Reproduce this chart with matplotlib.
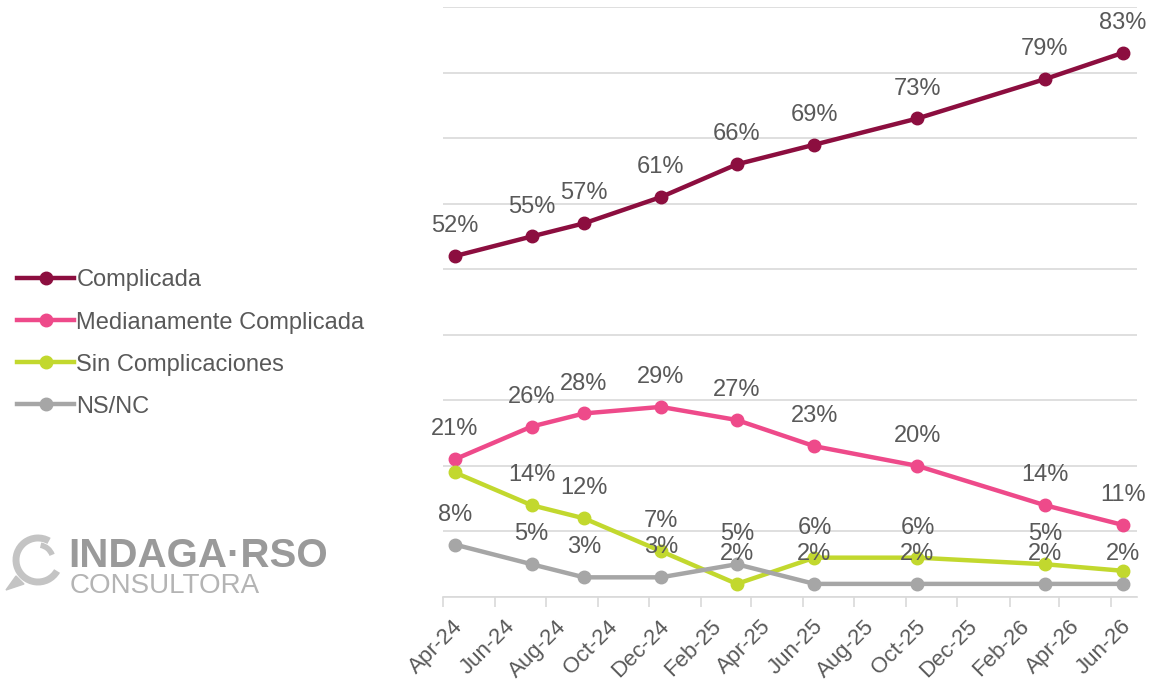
import numpy as np
import matplotlib
matplotlib.use("Agg")
import matplotlib.pyplot as plt
import matplotlib.dates as mdates
from matplotlib.patches import Arc, Polygon
from matplotlib.transforms import ScaledTranslation
from datetime import datetime

plt.rcParams['font.family'] = ['Liberation Sans', 'DejaVu Sans']

# survey dates and values (%)
fechas = ["2024-04-15", "2024-07-15", "2024-09-15", "2024-12-15", "2025-03-15",
          "2025-06-15", "2025-10-15", "2026-03-15", "2026-06-15"]
complicada = [52, 55, 57, 61, 66, 69, 73, 79, 83]
medianamente = [21, 26, 28, 29, 27, 23, 20, 14, 11]
sin_compl = [19, 14, 12, 7, 2, 6, 6, 5, 4]
nsnc = [8, 5, 3, 3, 5, 2, 2, 2, 2]

series_names = ["Complicada", "Medianamente Complicada", "Sin Complicaciones", "NS/NC"]
colors = ["#8C0E3F", "#EE4A8A", "#C2D82E", "#A6A6A6"]
hidden_labels = {"Sin Complicaciones": [0, 8]}  # labels not shown in the original

x = [datetime.strptime(f, "%Y-%m-%d") for f in fechas]
text_col = "#595959"

fig = plt.figure(figsize=(11.63, 6.82), dpi=100)
ax = fig.add_axes([443 / 1163, 1 - 597 / 682, (1137 - 443) / 1163, (597 - 7) / 682])

for name, vals, col in zip(series_names, [complicada, medianamente, sin_compl, nsnc], colors):
    ax.plot(x, vals, color=col, lw=3.2, marker="o", ms=9, label=name, zorder=3)
    for i, (xi, v) in enumerate(zip(x, vals)):
        if i in hidden_labels.get(name, []):
            continue
        ax.annotate(f"{v}%", (xi, v), xytext=(0, 21.5), textcoords="offset points",
                    ha="center", va="center", fontsize=17, color=text_col, zorder=4)

ax.set_ylim(0, 90)
ax.set_yticks(np.arange(0, 91, 10))
ax.yaxis.grid(True, color="#D9D9D9", lw=1.2)
ax.set_axisbelow(True)
ax.tick_params(axis="y", left=False, labelleft=False)
ax.set_xlim(datetime(2024, 4, 1), datetime(2026, 7, 2))
ax.xaxis.set_major_locator(mdates.MonthLocator(bymonth=[2, 4, 6, 8, 10, 12]))
ax.xaxis.set_major_formatter(mdates.DateFormatter("%b-%y"))
ax.tick_params(axis="x", direction="out", length=7, width=1.2, color="#D9D9D9",
               labelsize=16, labelcolor=text_col, pad=12)
for lab in ax.get_xticklabels():
    lab.set_rotation(45)
    lab.set_ha("right")
    lab.set_va("center")
    lab.set_rotation_mode("anchor")
    lab.set_transform(lab.get_transform() + ScaledTranslation(0.17, 0, fig.dpi_scale_trans))
for s in ["left", "right", "top"]:
    ax.spines[s].set_visible(False)
ax.spines["bottom"].set_color("#D9D9D9")
ax.spines["bottom"].set_linewidth(1.2)

fig.legend(loc="upper left", bbox_to_anchor=(8 / 1163, 1 - 260 / 682), frameon=False,
           fontsize=17, labelcolor=text_col, handlelength=2.4, handletextpad=0.1,
           labelspacing=0.85, borderaxespad=0)

# logo
fig.text(68 / 1163, 1 - 556 / 682, "INDAGA·RSO", fontsize=29, fontweight="bold",
         color="#9A9A9A", va="center", ha="left")
fig.text(70 / 1163, 1 - 586 / 682, "CONSULTORA", fontsize=20, color="#B4B4B4",
         va="center", ha="left")
lax = fig.add_axes([0, 1 - 600 / 682, 70 / 1163, 70 / 682])
lax.set_xlim(0, 70)
lax.set_ylim(0, 70)
lax.axis("off")
lax.add_patch(Arc((38, 40), 44, 44, theta1=60, theta2=330, color="#C4C4C4", lw=5))
lax.add_patch(Arc((38, 40), 30, 30, theta1=20, theta2=80, color="#C4C4C4", lw=4))
lax.add_patch(Polygon([[6, 10], [16, 24], [24, 16]], closed=True, color="#C4C4C4"))

fig.savefig("out.png", dpi=100)
